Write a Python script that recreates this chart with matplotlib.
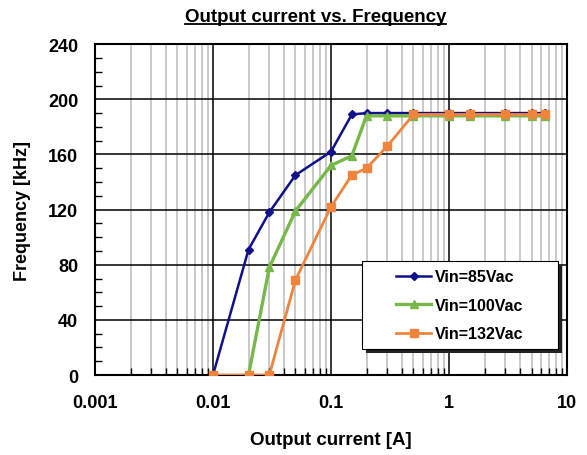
import numpy as np
import matplotlib
matplotlib.use("Agg")
import matplotlib.pyplot as plt
from matplotlib.lines import Line2D
from matplotlib.patches import Rectangle
from matplotlib.ticker import FixedLocator, LogLocator, MultipleLocator, FuncFormatter

plt.rcParams['font.family'] = ['Liberation Sans', 'DejaVu Sans']
plt.rcParams['font.weight'] = 'bold'

# data
i_85 = [0.01, 0.02, 0.03, 0.05, 0.1, 0.15, 0.2, 0.3, 0.5, 1, 1.5, 3, 5, 6.5]
f_85 = [0, 91, 118, 145, 162, 189, 190, 190, 190, 190, 190, 190, 190, 190]

i_100 = [0.02, 0.03, 0.05, 0.1, 0.15, 0.2, 0.3, 0.5, 1, 1.5, 3, 5, 6.5]
f_100 = [0, 78, 119, 152, 159, 188, 188, 188, 188, 188, 188, 188, 188]

i_132 = [0.01, 0.02, 0.03, 0.05, 0.1, 0.15, 0.2, 0.3, 0.5, 1, 1.5, 3, 5, 6.5]
f_132 = [0, 0, 0, 69, 122, 145, 150, 166, 189, 189, 189, 189, 189, 189]

x_ticks = [0.001, 0.01, 0.1, 1, 10]
x_labels = ["0.001", "0.01", "0.1", "1", "10"]

fig = plt.figure(figsize=(5.87, 4.56), dpi=100)
ax = fig.add_axes([0.1618, 0.1754, 0.8042, 0.7256])

ax.plot(i_85, f_85, color='#10108a', marker='D', markersize=4.5, linewidth=1.8,
        label='Vin=85Vac', zorder=3)
ax.plot(i_100, f_100, color='#77b84a', marker='^', markersize=6, linewidth=2.4,
        label='Vin=100Vac', zorder=4)
ax.plot(i_132, f_132, color='#f0843c', marker='s', markersize=6, linewidth=2.0,
        label='Vin=132Vac', zorder=5)

ax.set_xscale('log')
ax.set_xlim(0.001, 10)
ax.set_ylim(0, 240)

ax.xaxis.set_major_locator(FixedLocator(x_ticks))
ax.xaxis.set_major_formatter(FuncFormatter(lambda v, p: x_labels[x_ticks.index(v)] if v in x_ticks else ""))
ax.xaxis.set_minor_locator(LogLocator(base=10, subs=np.arange(2, 10)))
ax.yaxis.set_major_locator(MultipleLocator(40))
ax.yaxis.set_minor_locator(MultipleLocator(10))

ax.grid(which='major', axis='both', color='black', linewidth=1.1)
ax.grid(which='minor', axis='x', color='#bbbbbb', linewidth=1.1)
ax.set_axisbelow(True)

ax.tick_params(axis='both', which='both', direction='in')
ax.tick_params(axis='x', which='major', length=0, pad=14, labelsize=13)
ax.tick_params(axis='x', which='minor', length=5, width=1)
ax.tick_params(axis='y', which='major', length=0, pad=12, labelsize=13)
ax.tick_params(axis='y', which='minor', length=5, width=1)
for lbl in ax.get_xticklabels() + ax.get_yticklabels():
    lbl.set_fontweight('bold')

for s in ax.spines.values():
    s.set_linewidth(1.5)

ax.set_xlabel("Output current [A]", fontsize=13.5, fontweight='bold', labelpad=14)
ax.set_ylabel("Frequency [kHz]", fontsize=13, fontweight='bold', labelpad=12)

title = fig.text(0.537, 0.962, "Output current vs. Frequency", ha='center', va='center',
                 fontsize=13.5, fontweight='bold')

# legend box with shadow
ax.add_patch(Rectangle((0.5657 + 0.009, 0.0785 - 0.012), 0.4153, 0.2655, transform=ax.transAxes,
                       facecolor='#222222', edgecolor='none', zorder=6))
ax.add_patch(Rectangle((0.5657, 0.0785), 0.4153, 0.2655, transform=ax.transAxes,
                       facecolor='white', edgecolor='black', linewidth=0.8, zorder=7))
leg = ax.legend(loc='center', bbox_to_anchor=(0.773, 0.2106), frameon=False, fontsize=11.5,
                handlelength=2.2, handletextpad=0.25, labelspacing=0.85, borderpad=0)
leg.set_zorder(8)
for t in leg.get_texts():
    t.set_fontweight('bold')

# underline the title
fig.canvas.draw()
bb = title.get_window_extent().transformed(fig.transFigure.inverted())
fig.add_artist(Line2D([bb.x0, bb.x1], [bb.y0 + 0.002, bb.y0 + 0.002], color='black',
                      linewidth=1.3, transform=fig.transFigure))

fig.savefig("out.png", dpi=100)
